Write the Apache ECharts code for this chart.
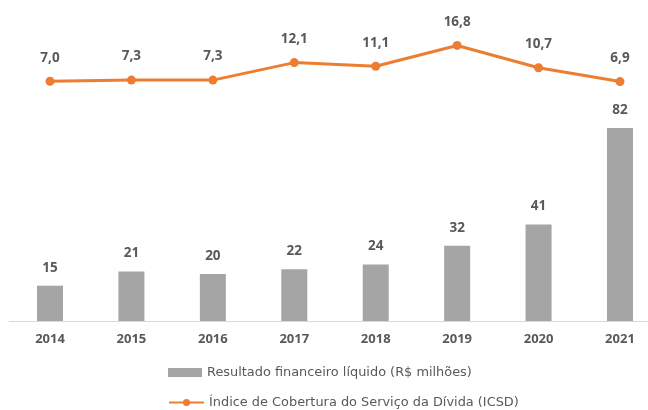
<!DOCTYPE html>
<html>
<head>
<meta charset="utf-8">
<script src="https://cdn.jsdelivr.net/npm/echarts@6/dist/echarts.min.js"></script>
<style>
  html, body { margin: 0; padding: 0; background: #fff; }
  #main { width: 648px; height: 410px; }
</style>
</head>
<body>
<div id="main"></div>
<script>
var anos = ['2014', '2015', '2016', '2017', '2018', '2019', '2020', '2021'];
var resultado = [15, 21, 20, 22, 24, 32, 41, 82];
var icsd = [7.0, 7.3, 7.3, 12.1, 11.1, 16.8, 10.7, 6.9];

var nomeBarra = 'Resultado financeiro líquido (R$ milhões)';
var nomeLinha = 'Índice de Cobertura do Serviço da Dívida (ICSD)';

var cinzaTexto = '#595959';
var legendaTexto = { color: cinzaTexto, fontSize: 12.9, fontFamily: 'DejaVu Sans' };

var myChart = echarts.init(document.getElementById('main'));
myChart.setOption({
    animation: false,
    textStyle: { fontFamily: 'Open Sans' },
    grid: {
        left: 9.3,
        top: 20,
        width: 651.4,
        height: 301,
        outerBoundsMode: 'none',
        containLabel: false
    },
    legend: [
        {
            left: 168,
            top: 366,
            padding: 0,
            itemWidth: 34,
            itemHeight: 9,
            textStyle: legendaTexto,
            data: [{ name: nomeBarra, icon: 'rect' }]
        },
        {
            left: 168,
            top: 396,
            padding: 0,
            itemWidth: 35,
            itemHeight: 9,
            textStyle: legendaTexto,
            data: [{ name: nomeLinha }]
        }
    ],
    xAxis: {
        type: 'category',
        data: anos,
        axisLine: { lineStyle: { color: '#d9d9d9', width: 1 } },
        axisTick: { show: false },
        axisLabel: {
            color: cinzaTexto,
            fontSize: 13,
            fontWeight: 'bold',
            margin: 12
        }
    },
    yAxis: [
        { type: 'value', min: 0, max: 127.9, show: false, splitLine: { show: false } },
        { type: 'value', min: -58.7, max: 23.77, show: false, splitLine: { show: false } }
    ],
    series: [
        {
            name: nomeBarra,
            type: 'bar',
            yAxisIndex: 0,
            data: resultado,
            barWidth: 26,
            itemStyle: { color: '#a5a5a5' },
            label: {
                show: true,
                position: 'top',
                distance: 11,
                color: cinzaTexto,
                fontSize: 13.5,
                fontWeight: 'bold'
            }
        },
        {
            name: nomeLinha,
            type: 'line',
            yAxisIndex: 1,
            data: icsd,
            symbol: 'circle',
            symbolSize: 9,
            lineStyle: { color: '#ed7d31', width: 3 },
            itemStyle: { color: '#ed7d31' },
            label: {
                show: true,
                position: 'top',
                distance: 12,
                color: cinzaTexto,
                fontSize: 13.5,
                fontWeight: 'bold',
                formatter: function (p) {
                    return p.value.toFixed(1).replace('.', ',');
                }
            }
        }
    ]
});
</script>
</body>
</html>
